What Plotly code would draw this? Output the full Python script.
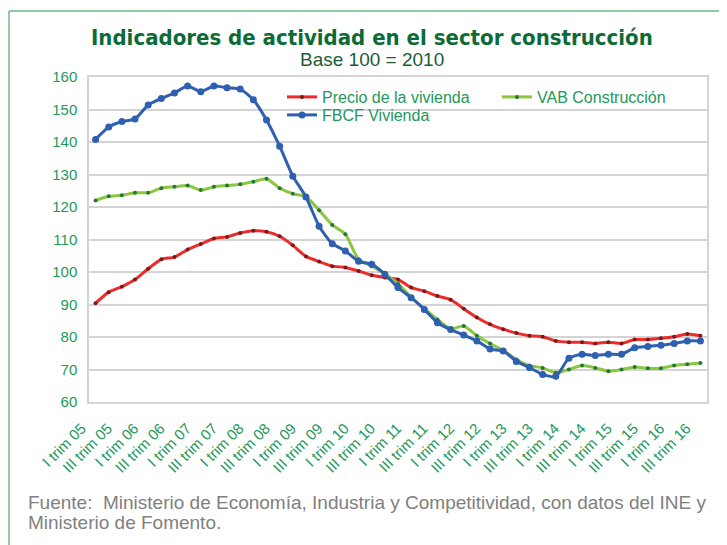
import plotly.graph_objects as go

# ---- data ----
years = ["05", "06", "07", "08", "09", "10", "11", "12", "13", "14", "15", "16"]
roman = ["I", "II", "III", "IV"]
categories = [f"{q} trim {y}" for y in years for q in roman][:47]
tick_labels = [c for c in categories if c.startswith("I trim") or c.startswith("III trim")]

precio_vivienda = [90.4, 93.8, 95.5, 97.7, 101.0, 103.9, 104.6, 106.9, 108.6, 110.3,
                   110.8, 112.0, 112.7, 112.4, 111.0, 108.2, 104.8, 103.2, 101.8, 101.4,
                   100.3, 99.0, 98.3, 97.7, 95.2, 94.1, 92.6, 91.5, 88.7, 86.0,
                   83.9, 82.4, 81.2, 80.4, 80.1, 78.8, 78.4, 78.4, 78.0, 78.4,
                   78.0, 79.2, 79.2, 79.6, 80.1, 80.9, 80.4]

vab_construccion = [122.0, 123.3, 123.6, 124.4, 124.4, 125.8, 126.2, 126.6, 125.2, 126.2,
                    126.6, 127.0, 127.8, 128.7, 125.8, 124.1, 123.2, 119.0, 114.5, 111.6,
                    103.9, 101.8, 99.5, 96.4, 92.3, 88.7, 85.4, 82.5, 83.4, 80.4,
                    78.0, 75.9, 73.1, 71.2, 70.5, 69.0, 70.0, 71.2, 70.5, 69.5,
                    70.0, 70.8, 70.4, 70.4, 71.2, 71.6, 72.0]

fbcf_vivienda = [140.8, 144.6, 146.3, 147.1, 151.4, 153.4, 155.1, 157.2, 155.5, 157.2,
                 156.7, 156.3, 153.0, 146.8, 138.7, 129.5, 123.1, 114.1, 108.7, 106.5,
                 103.3, 102.4, 99.3, 95.2, 92.1, 88.5, 84.4, 82.3, 80.6, 78.8,
                 76.3, 75.7, 72.5, 70.6, 68.5, 67.9, 73.5, 74.7, 74.3, 74.7,
                 74.7, 76.7, 77.1, 77.5, 78.0, 78.8, 78.8]

y_ticks = [60, 70, 80, 90, 100, 110, 120, 130, 140, 150, 160]

GREEN_TXT = "#23985A"
OFF = 8  # page body margin
# plot area in screen pixels
L, R, T, B = 89, 707, 77, 402
W = R - L
H = B - T


def px(x):
    return (x - L) / W


def py(y):
    return (B - y) / H


fig = go.Figure()

fig.add_trace(go.Scatter(
    x=categories, y=precio_vivienda, name="Precio de la vivienda", mode="lines+markers",
    line=dict(color="#EE2A2A", width=3, shape="spline", smoothing=0.6),
    marker=dict(color="#7A1A1A", size=4), legend="legend"))
fig.add_trace(go.Scatter(
    x=categories, y=vab_construccion, name="VAB Construcción", mode="lines+markers",
    line=dict(color="#8CC63F", width=3, shape="spline", smoothing=0.6),
    marker=dict(color="#1F7A3A", size=4), legend="legend2"))
fig.add_trace(go.Scatter(
    x=categories, y=fbcf_vivienda, name="FBCF Vivienda", mode="lines+markers",
    line=dict(color="#2E5FB0", width=3, shape="spline", smoothing=0.6),
    marker=dict(color="#2E5FB0", size=7), legend="legend3"))

leg_common = dict(xanchor="left", yanchor="top", orientation="v",
                  font=dict(size=16, color=GREEN_TXT), bgcolor="rgba(0,0,0,0)")

fig.update_layout(
    width=727, height=545,
    margin=dict(l=L - OFF, r=727 - R + OFF, t=T - OFF, b=545 - B + OFF, autoexpand=False),
    paper_bgcolor="white", plot_bgcolor="white",
    font=dict(family="Liberation Sans, Arial, sans-serif", color=GREEN_TXT),
    xaxis=dict(type="category", categoryorder="array", categoryarray=categories,
               tickmode="array", tickvals=tick_labels, ticktext=tick_labels,
               tickangle=-45, tickfont=dict(size=15, color=GREEN_TXT),
               ticklabelstandoff=10, ticklabelshift=-14,
               showgrid=False, showline=True, mirror=True, linecolor="#D4D4D4", linewidth=1.5,
               ticks="", range=[-0.5, 46.5], automargin=False),
    yaxis=dict(range=[60, 160], tickmode="array", tickvals=y_ticks,
               tickfont=dict(size=15, color=GREEN_TXT),
               showgrid=True, gridcolor="#D4D4D4", gridwidth=1.5,
               showline=True, mirror=True, linecolor="#D4D4D4", linewidth=1.5,
               ticks="", ticklabelstandoff=7, zeroline=False, automargin=False),
    legend=dict(x=px(323 - 41), y=py(80), **leg_common),
    legend2=dict(x=px(538 - 41), y=py(80), **leg_common),
    legend3=dict(x=px(323 - 41), y=py(98), **leg_common),
    showlegend=True,
)

fig.add_shape(type="line", xref="paper", yref="y", x0=0, x1=1, y0=100, y1=100,
              line=dict(color="#3C9E60", width=2), layer="between")

# frame
fig.add_shape(type="line", xref="paper", yref="paper", x0=px(9), x1=px(740), y0=py(11), y1=py(11),
              line=dict(color="#8FCBA3", width=2))
fig.add_shape(type="line", xref="paper", yref="paper", x0=px(9), x1=px(9), y0=py(11), y1=py(560),
              line=dict(color="#8FCBA3", width=2))

fig.add_annotation(text="Indicadores de actividad en el sector construcción",
                   xref="paper", yref="paper", x=px(372), y=py(37),
                   xanchor="center", yanchor="middle", showarrow=False,
                   font=dict(family="DejaVu Sans Condensed, Roboto, sans-serif", weight=700,
                             size=22, color="#0C6B36"))
fig.add_annotation(text="Base 100 = 2010", xref="paper", yref="paper",
                   x=px(372), y=py(59), xanchor="center", yanchor="middle",
                   showarrow=False, font=dict(size=19, color="#1B5E34"))
fig.add_annotation(text="Fuente:  Ministerio de Economía, Industria y Competitividad, con datos del INE y",
                   xref="paper", yref="paper", x=px(26), y=py(502),
                   xanchor="left", yanchor="middle", align="left", showarrow=False,
                   font=dict(size=19, color="#808080"))
fig.add_annotation(text="Ministerio de Fomento.",
                   xref="paper", yref="paper", x=px(26), y=py(522),
                   xanchor="left", yanchor="middle", align="left", showarrow=False,
                   font=dict(size=19, color="#808080"))

fig.write_html("out.html")
